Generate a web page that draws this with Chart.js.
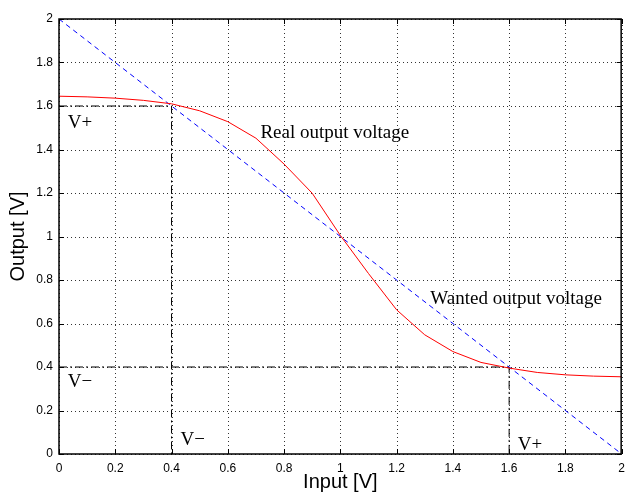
<!DOCTYPE html>
<html>
<head>
<meta charset="utf-8">
<script src="https://cdn.jsdelivr.net/npm/chart.js@4/dist/chart.umd.min.js"></script>
<style>
  html, body { margin: 0; padding: 0; background: #fff; }
  #wrap { width: 632px; height: 494px; }
</style>
</head>
<body>
<div id="wrap"><canvas id="chart" width="632" height="494"></canvas></div>
<script>
// input values along the x axis
const inputX = [0, 0.1, 0.2, 0.3, 0.4, 0.5, 0.6, 0.7, 0.8, 0.9, 1.0, 1.1, 1.2, 1.3, 1.4, 1.5, 1.6, 1.7, 1.8, 1.9, 2.0];
// real output voltage (red)
const realOutput = [1.645, 1.642, 1.636, 1.626, 1.61, 1.578, 1.528, 1.452, 1.333, 1.199, 1.005, 0.83, 0.663, 0.548, 0.471, 0.421, 0.395, 0.375, 0.364, 0.358, 0.355];
// wanted output voltage (blue dashed)
const wantedX = [0, 2];
const wantedY = [2, 0];
// V+ / V- reference levels
const vPlus = 1.6;
const vMinus = 0.4;
const xTickLabels = ['0', '0.2', '0.4', '0.6', '0.8', '1', '1.2', '1.4', '1.6', '1.8', '2'];
const yTickLabels = ['0', '0.2', '0.4', '0.6', '0.8', '1', '1.2', '1.4', '1.6', '1.8', '2'];

// text notes placed in data units (x = left edge, y = baseline)
const notes = [
    { text: 'V+', x: 0.031, y: 1.498 },
    { text: 'Real output voltage', x: 0.716, y: 1.453 },
    { text: 'Wanted output voltage', x: 1.32, y: 0.69 },
    { text: 'V\u2212', x: 0.031, y: 0.306 },
    { text: 'V\u2212', x: 0.432, y: 0.043 },
    { text: 'V+', x: 1.631, y: 0.02 }
];

const dashDot = [8, 3, 2, 3];

const toPts = (xs, ys) => xs.map((x, i) => ({ x: x, y: ys[i] }));

// dotted grid, box, inward ticks and the text notes
const matlabPlugin = {
    id: 'matlab',
    beforeDatasetsDraw(chart) {
        const ctx = chart.ctx;
        const area = chart.chartArea;
        const sx = chart.scales.x, sy = chart.scales.y;
        ctx.save();
        ctx.strokeStyle = '#333';
        ctx.lineWidth = 1;
        ctx.setLineDash([1, 3]);
        ctx.beginPath();
        sx.ticks.forEach(t => {
            const px = Math.round(sx.getPixelForValue(t.value)) + 0.5;
            ctx.moveTo(px, area.bottom); ctx.lineTo(px, area.top);
        });
        sy.ticks.forEach(t => {
            const py = Math.round(sy.getPixelForValue(t.value)) + 0.5;
            ctx.moveTo(area.left, py); ctx.lineTo(area.right, py);
        });
        ctx.stroke();
        ctx.restore();
    },
    afterDraw(chart) {
        const ctx = chart.ctx;
        const area = chart.chartArea;
        const sx = chart.scales.x, sy = chart.scales.y;
        ctx.save();
        ctx.strokeStyle = '#000';
        ctx.lineWidth = 1;
        const len = 5;
        ctx.beginPath();
        sx.ticks.forEach(t => {
            const px = Math.round(sx.getPixelForValue(t.value)) + 0.5;
            ctx.moveTo(px, area.bottom); ctx.lineTo(px, area.bottom - len);
            ctx.moveTo(px, area.top); ctx.lineTo(px, area.top + len);
        });
        sy.ticks.forEach(t => {
            const py = Math.round(sy.getPixelForValue(t.value)) + 0.5;
            ctx.moveTo(area.left, py); ctx.lineTo(area.left + len, py);
            ctx.moveTo(area.right, py); ctx.lineTo(area.right - len, py);
        });
        ctx.stroke();
        ctx.lineWidth = 1.5;
        ctx.strokeRect(area.left, area.top, area.right - area.left - 0.5, area.bottom - area.top);

        ctx.fillStyle = '#000';
        ctx.font = '19px "Liberation Serif", "Times New Roman", serif';
        ctx.textBaseline = 'alphabetic';
        ctx.textAlign = 'left';
        notes.forEach(n => {
            ctx.fillText(n.text, sx.getPixelForValue(n.x), sy.getPixelForValue(n.y));
        });
        ctx.restore();
    }
};

new Chart(document.getElementById('chart'), {
    type: 'line',
    data: {
        datasets: [
            {
                label: 'Real output voltage',
                data: toPts(inputX, realOutput),
                borderColor: 'rgb(255, 0, 0)',
                borderWidth: 1,
                pointRadius: 0,
                tension: 0
            },
            {
                label: 'Wanted output voltage',
                data: toPts(wantedX, wantedY),
                borderColor: 'rgb(0, 0, 255)',
                borderWidth: 1,
                borderDash: [5, 4],
                pointRadius: 0
            },
            {
                label: 'V+ level',
                data: [{ x: 0, y: vPlus }, { x: vMinus, y: vPlus }, { x: vMinus, y: 0 }],
                borderColor: '#000',
                borderWidth: 1,
                borderDash: dashDot,
                pointRadius: 0
            },
            {
                label: 'V- level',
                data: [{ x: 0, y: vMinus }, { x: vPlus, y: vMinus }, { x: vPlus, y: 0 }],
                borderColor: '#000',
                borderWidth: 1,
                borderDash: dashDot,
                pointRadius: 0
            }
        ]
    },
    options: {
        responsive: false,
        animation: false,
        layout: { padding: { top: 19, right: 0, left: 6, bottom: 0 } },
        plugins: {
            legend: { display: false },
            tooltip: { enabled: false }
        },
        scales: {
            x: {
                type: 'linear',
                min: 0,
                max: 2,
                afterFit(scale) { scale.height = 40; },
                ticks: {
                    stepSize: 0.2,
                    color: '#000',
                    font: { family: '"Liberation Sans", Arial, sans-serif', size: 12 },
                    padding: 7,
                    maxRotation: 0,
                    callback: (v, i) => xTickLabels[i]
                },
                grid: { display: false, drawTicks: false },
                border: { display: false },
                title: {
                    display: true,
                    text: 'Input [V]',
                    color: '#000',
                    font: { family: '"Liberation Sans", Arial, sans-serif', size: 20 },
                    padding: { top: 0, bottom: 0 }
                }
            },
            y: {
                type: 'linear',
                min: 0,
                max: 2,
                afterFit(scale) { scale.width = 53; },
                ticks: {
                    stepSize: 0.2,
                    color: '#000',
                    font: { family: '"Liberation Sans", Arial, sans-serif', size: 12 },
                    padding: 6,
                    callback: (v, i) => yTickLabels[i]
                },
                grid: { display: false, drawTicks: false },
                border: { display: false },
                title: {
                    display: true,
                    text: 'Output [V]',
                    color: '#000',
                    font: { family: '"Liberation Sans", Arial, sans-serif', size: 20 },
                    padding: { top: 0, bottom: 4 }
                }
            }
        }
    },
    plugins: [matlabPlugin]
});
</script>
</body>
</html>
